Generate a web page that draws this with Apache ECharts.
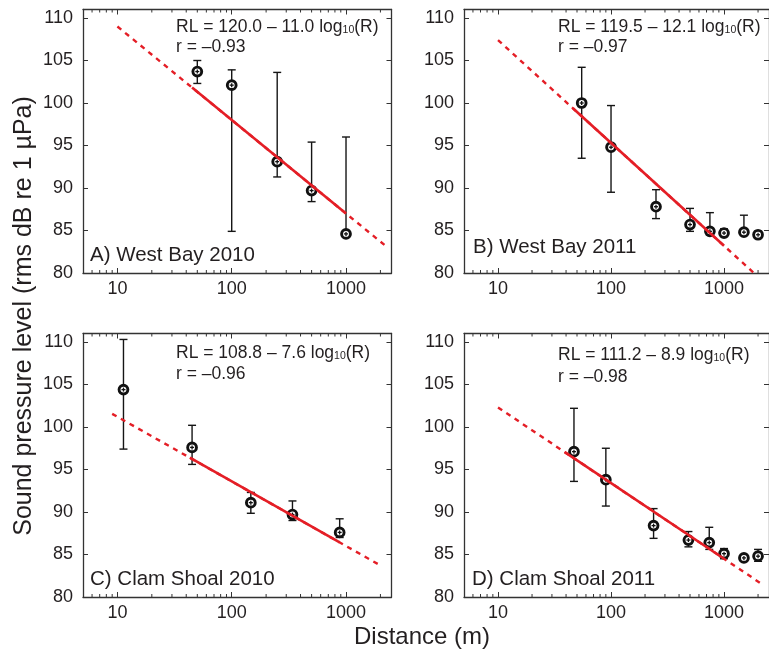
<!DOCTYPE html>
<html><head><meta charset="utf-8">
<script src="https://cdn.jsdelivr.net/npm/echarts@6/dist/echarts.min.js"></script>
<style>html,body{margin:0;padding:0;background:#fff}#c{width:769px;height:652px}</style>
</head><body><div id="c"></div>
<script>
// ---------- data ----------
const panelLabels = ['A) West Bay 2010', 'B) West Bay 2011', 'C) Clam Shoal 2010', 'D) Clam Shoal 2011'];
const eqIntercept = [120.0, 119.5, 108.8, 111.2];
const eqSlope = [11.0, 12.1, 7.6, 8.9];
const rLabels = ['r = –0.93', 'r = –0.97', 'r = –0.96', 'r = –0.98'];
const solidRange = [[45, 1000], [46, 1000], [43, 880], [39, 1000]];
const dashRange = [[10, 2200], [10, 1900], [9, 2000], [10, 2150]];

const distA = [50, 100, 250, 500, 1000];
const meanA = [103.7, 102.1, 93.1, 89.7, 84.6];
const upA   = [105.0, 103.9, 103.6, 95.4, 96.0];
const loA   = [102.3, 84.9, 91.3, 88.4, 84.3];

const distB = [55, 100, 250, 500, 750, 1000, 1500, 2000];
const meanB = [100.0, 94.8, 87.8, 85.7, 84.9, 84.7, 84.8, 84.5];
const upB   = [104.2, 99.7, 89.8, 87.6, 87.1, 85.2, 86.8, 84.9];
const loB   = [93.5, 89.5, 86.4, 84.9, 84.5, 84.3, 84.5, 84.2];

const distC = [11.3, 45, 147, 340, 880];
const meanC = [104.4, 97.6, 91.1, 89.7, 87.6];
const upC   = [110.3, 100.2, 92.3, 91.3, 89.2];
const loC   = [97.4, 95.6, 89.85, 89.0, 87.0];

const distD = [47, 90, 238, 484, 740, 1000, 1500, 2000];
const meanD = [97.1, 93.8, 88.4, 86.7, 86.4, 85.1, 84.6, 84.8];
const upD   = [102.2, 97.5, 90.4, 87.7, 88.2, 85.7, 84.9, 85.6];
const loD   = [93.6, 90.7, 86.9, 85.9, 85.6, 84.5, 84.3, 84.2];

const xTickLabels = [10, 100, 1000];
const yTickLabels = [80, 85, 90, 95, 100, 105, 110];
const minorTickValues = [6, 7, 8, 9, 20, 30, 40, 50, 60, 70, 80, 90, 200, 300, 400, 500, 600, 700, 800, 900, 2000];
const xMin = 5, xMax = 2500, yMin = 80, yMax = 111;

const yTitle = 'Sound pressure level (rms dB re 1 µPa)';
const xTitle = 'Distance (m)';

// ---------- layout ----------
const FONT = '"Liberation Sans", Arial, Helvetica, sans-serif';
const TXT = '#231f20';
const RED = '#e41e26';
const grids = [
  {left: 83, top: 9.5, width: 308.5, height: 263.5},
  {left: 464, top: 9.5, width: 308.5, height: 263.5},
  {left: 83, top: 333.5, width: 308.5, height: 263.5},
  {left: 464, top: 333.5, width: 308.5, height: 263.5}
];
const eqPos = [[176, 26, 47], [558, 26, 47], [176, 352, 374], [558, 354, 377]];
const labelPos = [[90, 255], [473, 247], [90, 579], [472, 579]];

const pts = [
  [distA, meanA, loA, upA],
  [distB, meanB, loB, upB],
  [distC, meanC, loC, upC],
  [distD, meanD, loD, upD]
];

const axisLineStyle = {color: '#333', width: 1.3};
const xAxes = [], yAxes = [], series = [], graphics = [];

function isDecade(v) {
  const l = Math.log10(v);
  return Math.abs(l - Math.round(l)) < 1e-6 && xTickLabels.indexOf(Math.round(v)) >= 0;
}

function renderErr(params, api) {
  const x = api.value(0), m = api.value(1), lo = api.value(2), hi = api.value(3);
  const pm = api.coord([x, m]), pl = api.coord([x, lo]), ph = api.coord([x, hi]);
  const cap = 4, r = 4.4;
  const ls = {stroke: '#151515', lineWidth: 1.4};
  return {type: 'group', children: [
    {type: 'line', shape: {x1: pm[0], y1: ph[1], x2: pm[0], y2: pl[1]}, style: ls},
    {type: 'line', shape: {x1: pm[0] - cap, y1: ph[1], x2: pm[0] + cap, y2: ph[1]}, style: ls},
    {type: 'line', shape: {x1: pm[0] - cap, y1: pl[1], x2: pm[0] + cap, y2: pl[1]}, style: ls},
    {type: 'circle', shape: {cx: pm[0], cy: pm[1], r: r}, style: {fill: '#fff', stroke: '#111', lineWidth: 2.9}},
    {type: 'line', shape: {x1: pm[0] - 2, y1: pm[1], x2: pm[0] + 2, y2: pm[1]}, style: {stroke: '#111', lineWidth: 1.3}},
    {type: 'line', shape: {x1: pm[0], y1: pm[1] - 2, x2: pm[0], y2: pm[1] + 2}, style: {stroke: '#111', lineWidth: 1.3}}
  ]};
}

function renderMinor(params, api) {
  const cs = params.coordSys;
  const x = api.coord([api.value(0), yMin])[0];
  const ls = {stroke: '#333', lineWidth: 1};
  return {type: 'group', children: [
    {type: 'line', shape: {x1: x, y1: cs.y + cs.height, x2: x, y2: cs.y + cs.height - 3}, style: ls},
    {type: 'line', shape: {x1: x, y1: cs.y, x2: x, y2: cs.y + 3}, style: ls}
  ]};
}

for (let i = 0; i < 4; i++) {
  xAxes.push({
    type: 'log', logBase: 10, gridIndex: i, min: xMin, max: xMax, position: 'bottom',
    axisLine: {lineStyle: axisLineStyle},
    axisTick: {inside: true, length: 5, lineStyle: {color: '#333', width: 1}},
    axisLabel: {
      margin: 7, fontSize: 18, fontFamily: FONT, color: TXT,
      showMinLabel: false, showMaxLabel: false,
      formatter: v => isDecade(v) ? String(Math.round(v)) : ''
    },
    splitLine: {show: false}
  });
  xAxes.push({
    type: 'log', logBase: 10, gridIndex: i, min: xMin, max: xMax, position: 'top',
    axisLine: {lineStyle: axisLineStyle},
    axisTick: {inside: true, length: 5, lineStyle: {color: '#333', width: 1}},
    axisLabel: {show: false}, splitLine: {show: false}
  });
  yAxes.push({
    type: 'value', gridIndex: i, min: yMin, max: yMax, interval: 5, position: 'left',
    axisLine: {show: true, lineStyle: axisLineStyle},
    axisTick: {show: true, inside: true, length: 5, lineStyle: {color: '#333', width: 1}},
    axisLabel: {
      margin: 10, fontSize: 18, fontFamily: FONT, color: TXT, showMaxLabel: false,
      formatter: v => yTickLabels.indexOf(v) >= 0 ? String(v) : ''
    },
    splitLine: {show: false}
  });
  yAxes.push({
    type: 'value', gridIndex: i, min: yMin, max: yMax, interval: 5, position: 'right',
    axisLine: {show: true, lineStyle: axisLineStyle},
    axisTick: {show: true, inside: true, length: 5, lineStyle: {color: '#333', width: 1}},
    axisLabel: {show: false}, splitLine: {show: false}
  });

  const xi = 2 * i, yi = 2 * i;
  const a = eqIntercept[i], b = eqSlope[i];
  const fit = d => [d, a - b * Math.log10(d)];

  series.push({
    type: 'custom', xAxisIndex: xi, yAxisIndex: yi, renderItem: renderMinor,
    data: minorTickValues.map(v => [v]), silent: true, z: 1
  });
  series.push({
    type: 'custom', xAxisIndex: xi, yAxisIndex: yi, renderItem: renderErr,
    data: pts[i][0].map((d, k) => [d, pts[i][1][k], pts[i][2][k], pts[i][3][k]]),
    encode: {x: 0, y: 1}, silent: true, z: 3
  });
  series.push({
    type: 'line', xAxisIndex: xi, yAxisIndex: yi, symbol: 'none', silent: true, z: 4,
    data: [fit(dashRange[i][0]), fit(dashRange[i][1])],
    lineStyle: {color: RED, width: 2.4, type: [5, 5]}, clip: true
  });
  series.push({
    type: 'line', xAxisIndex: xi, yAxisIndex: yi, symbol: 'none', silent: true, z: 5,
    data: [fit(solidRange[i][0]), fit(solidRange[i][1])],
    lineStyle: {color: RED, width: 2.6}, clip: true
  });

  graphics.push({
    type: 'text', x: eqPos[i][0], y: eqPos[i][1],
    style: {
      text: '{m|RL = ' + a.toFixed(1) + ' – ' + b.toFixed(1) + ' log}{s|10}{m|(R)}',
      rich: {
        m: {fontSize: 17.5, fontFamily: FONT, fill: TXT, color: TXT, lineHeight: 20, verticalAlign: 'bottom'},
        s: {fontSize: 10.5, fontFamily: FONT, fill: TXT, color: TXT, lineHeight: 8, verticalAlign: 'bottom'}
      },
      verticalAlign: 'middle', textVerticalAlign: 'middle', align: 'left'
    }
  });
  graphics.push({
    type: 'text', x: eqPos[i][0], y: eqPos[i][2],
    style: {text: rLabels[i], font: '17.5px ' + FONT, fill: TXT, verticalAlign: 'middle', textVerticalAlign: 'middle', align: 'left'}
  });
  graphics.push({
    type: 'text', x: labelPos[i][0], y: labelPos[i][1],
    style: {text: panelLabels[i], font: '20.5px ' + FONT, fill: TXT, verticalAlign: 'middle', textVerticalAlign: 'middle', align: 'left'}
  });
}

graphics.push({
  type: 'text', x: 24, y: 316, rotation: Math.PI / 2,
  style: {text: yTitle, font: '25px ' + FONT, fill: TXT, align: 'center', textAlign: 'center', verticalAlign: 'middle', textVerticalAlign: 'middle'}
});
graphics.push({
  type: 'text', x: 422, y: 637,
  style: {text: xTitle, font: '24px ' + FONT, fill: TXT, align: 'center', textAlign: 'center', verticalAlign: 'middle', textVerticalAlign: 'middle'}
});

const chart = echarts.init(document.getElementById('c'), null, {renderer: 'canvas'});
chart.setOption({
  animation: false,
  backgroundColor: '#fff',
  grid: grids,
  xAxis: xAxes,
  yAxis: yAxes,
  series: series,
  graphic: graphics
});
</script>
</body></html>
